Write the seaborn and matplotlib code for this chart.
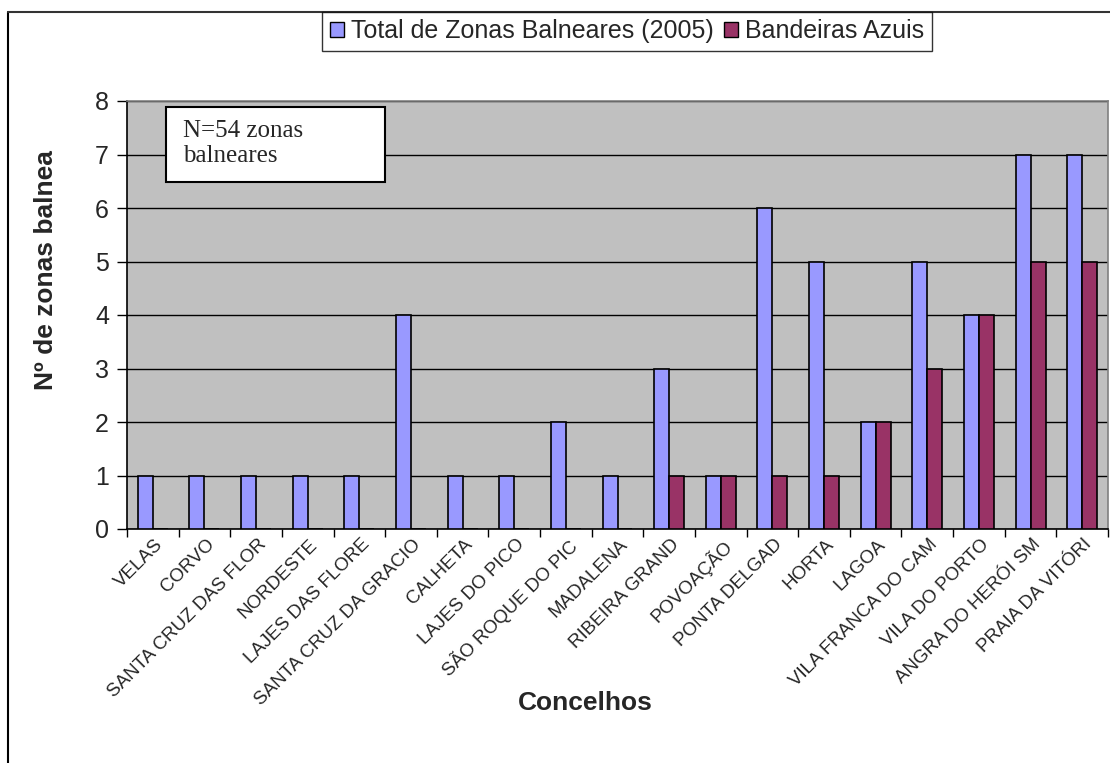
import matplotlib
matplotlib.use("Agg")
import matplotlib.pyplot as plt
from matplotlib.lines import Line2D
from matplotlib.patches import Patch, Rectangle
import seaborn as sns
import pandas as pd

concelhos = [
    "VELAS", "CORVO", "SANTA CRUZ DAS FLOR", "NORDESTE", "LAJES DAS FLORE",
    "SANTA CRUZ DA GRACIO", "CALHETA", "LAJES DO PICO", "SÃO ROQUE DO PIC",
    "MADALENA", "RIBEIRA GRAND", "POVOAÇÃO", "PONTA DELGAD", "HORTA", "LAGOA",
    "VILA FRANCA DO CAM", "VILA DO PORTO", "ANGRA DO HERÓI SM", "PRAIA DA VITÓRI",
]
total_zonas = [1, 1, 1, 1, 1, 4, 1, 1, 2, 1, 3, 1, 6, 5, 2, 5, 4, 7, 7]
bandeiras_azuis = [0, 0, 0, 0, 0, 0, 0, 0, 0, 0, 1, 1, 1, 1, 2, 3, 4, 5, 5]
series_names = ["Total de Zonas Balneares (2005)", "Bandeiras Azuis"]
y_ticks = list(range(0, 9))

df = pd.DataFrame({
    "Concelho": concelhos * 2,
    "Valor": total_zonas + bandeiras_azuis,
    "Serie": [series_names[0]] * len(concelhos) + [series_names[1]] * len(concelhos),
})

palette = {series_names[0]: "#9999FF", series_names[1]: "#993366"}

sns.set_style("white")
plt.rcParams["font.family"] = ["Liberation Sans", "DejaVu Sans"]

fig = plt.figure(figsize=(11.10, 7.63), dpi=100)
ax = fig.add_axes([127 / 1110, 1 - 529 / 763, (1108 - 127) / 1110, (529 - 101) / 763])
ax.set_facecolor("#C0C0C0")

sns.barplot(data=df, x="Concelho", y="Valor", hue="Serie", palette=palette,
            width=0.58, edgecolor="black", linewidth=1.2, ax=ax,
            saturation=1, legend=False, zorder=3)

ax.set_ylim(0, 8)
ax.set_xlim(-0.5, len(concelhos) - 0.5)
ax.set_yticks(y_ticks)
ax.set_yticklabels([str(t) for t in y_ticks], fontsize=18)
ax.yaxis.grid(True, color="black", linewidth=1.0, zorder=0)
ax.set_axisbelow(True)

# category separators as x ticks
ax.set_xticks([i - 0.5 for i in range(len(concelhos) + 1)], minor=False)
ax.set_xticklabels([])
ax.tick_params(axis="x", direction="out", length=6, width=1, color="black", bottom=True)
ax.tick_params(axis="y", direction="out", length=7, width=1, color="black", left=True, pad=6)
for i, name in enumerate(concelhos):
    ax.annotate(name, xy=(i, 0), xycoords=("data", "axes fraction"),
                xytext=(1, -5), textcoords="offset points",
                rotation=45, ha="right", va="top", rotation_mode="anchor",
                fontsize=13.5)

for side in ("top", "right"):
    ax.spines[side].set_color("#808080")
    ax.spines[side].set_linewidth(1.2)
for side in ("left", "bottom"):
    ax.spines[side].set_color("black")
    ax.spines[side].set_linewidth(1.2)

ax.set_xlabel("")
ax.set_ylabel("")
fig.text(46 / 1110, 1 - 270 / 763, "Nº de zonas balnea", rotation=90,
         ha="center", va="center", fontsize=19, fontweight="bold")
fig.text(585 / 1110, 1 - 703 / 763, "Concelhos", ha="center", va="center",
         fontsize=19, fontweight="bold")

# annotation box
ax.add_patch(Rectangle((0.0398, 0.811), 0.223, 0.175, transform=ax.transAxes,
                       facecolor="white", edgecolor="black", linewidth=1.5, zorder=5))
ax.text(0.0571, 0.955, "N=54 zonas\nbalneares", transform=ax.transAxes,
        ha="left", va="top", fontsize=18, family="Liberation Serif",
        linespacing=1.15, zorder=6)

handles = [Patch(facecolor=palette[s], edgecolor="black", linewidth=1.0) for s in series_names]
leg = fig.legend(handles, series_names, loc="center", bbox_to_anchor=(627 / 1110, 1 - 31 / 763),
                 ncol=2, fontsize=18, frameon=True, fancybox=False,
                 handlelength=0.55, handleheight=0.55, handletextpad=0.3,
                 columnspacing=0.4, borderpad=0.3)
leg.get_frame().set_edgecolor("black")
leg.get_frame().set_linewidth(1.0)

# outer chart frame (left and top edges)
fig.add_artist(Line2D([8 / 1110, 8 / 1110], [0, 1 - 12 / 763],
                      transform=fig.transFigure, color="black", linewidth=1.5))
fig.add_artist(Line2D([8 / 1110, 1], [1 - 12 / 763, 1 - 12 / 763],
                      transform=fig.transFigure, color="#333333", linewidth=1.5))

fig.savefig("out.png", dpi=100, facecolor="white")
